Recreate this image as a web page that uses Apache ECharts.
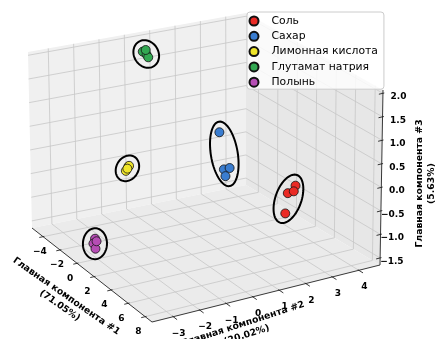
<!DOCTYPE html>
<html><head><meta charset="utf-8">
<script src="https://cdn.jsdelivr.net/npm/echarts@6/dist/echarts.min.js"></script>
<style>html,body{margin:0;padding:0;background:#fff}#c{width:436px;height:339px}</style>
</head><body><div id="c"></div><script>
// ---------- data ----------
const groupNames = ['Соль', 'Сахар', 'Лимонная кислота', 'Глутамат натрия', 'Полынь'];
// each point: [PC1, PC2, PC3]
const salt     = [[7.39, 2.08, 0.23], [7.51, 1.75, 0.13], [7.75, 1.89, 0.18], [7.02, 1.83, -0.37]];
const sugar    = [[6.20, -0.37, 1.52], [5.63, -0.01, 0.62], [5.91, 0.11, 0.67], [5.92, -0.05, 0.52]];
const citric   = [[-1.50, -1.24, -0.11], [-1.40, -1.37, -0.17], [-1.35, -1.26, -0.07], [-1.40, -1.31, -0.13]];
const msg      = [[-4.44, 0.41, 1.78], [-4.22, 0.48, 1.74], [-4.18, 0.53, 1.68], [-4.34, 0.49, 1.82]];
const wormwood = [[-1.15, -2.70, -1.42], [-0.90, -2.85, -1.47], [-0.52, -2.90, -1.52], [-0.98, -2.70, -1.45]];
const xTicks = [-4, -2, 0, 2, 4, 6, 8];
const yTicks = [-3, -2, -1, 0, 1, 2, 3, 4];
const zTicks = [-1.5, -1, -0.5, 0, 0.5, 1, 1.5, 2];
const xLim = [-5.3, 8.8];
const yLim = [-3.8, 4.8];
const zLim = [-1.65, 2.07];
const xTitle = 'Главная компонента #1\n(71.05%)';
const yTitle = 'Главная компонента #2\n(20.02%)';
const zTitle = 'Главная компонента #3\n(5.63%)';

// ---------- style / layout ----------
const groups = [salt, sugar, citric, msg, wormwood];
const colors = ['#ea2a25', '#3a7dd0', '#efe52a', '#33a852', '#b54db4'];
const FONT = '"DejaVu Sans", sans-serif';
// view: screen position of the box corners (key: x,y,z index, 0=min 1=max)
const VIEW = {
  c000: [32, 228], c100: [152, 322], c010: [246, 185], c110: [380, 265],
  c001: [28, 52],  c101: [150, 143], c011: [246, 13],  c111: [383, 90]
};
function lerp(a, b, t) { return [a[0] + (b[0] - a[0]) * t, a[1] + (b[1] - a[1]) * t]; }
function proj(x, y, z) {
  const u = (x - xLim[0]) / (xLim[1] - xLim[0]);
  const v = (y - yLim[0]) / (yLim[1] - yLim[0]);
  const w = (z - zLim[0]) / (zLim[1] - zLim[0]);
  const f0 = lerp(lerp(VIEW.c000, VIEW.c100, u), lerp(VIEW.c010, VIEW.c110, u), v);
  const f1 = lerp(lerp(VIEW.c001, VIEW.c101, u), lerp(VIEW.c011, VIEW.c111, u), v);
  return lerp(f0, f1, w);
}
const [x0, x1] = xLim, [y0, y1] = yLim, [z0, z1] = zLim;

// panes
const panes = [
  { pts: [[x0, y0, z0], [x0, y1, z0], [x0, y1, z1], [x0, y0, z1]], fill: '#f0f0f0' },
  { pts: [[x0, y1, z0], [x1, y1, z0], [x1, y1, z1], [x0, y1, z1]], fill: '#e7e7e7' },
  { pts: [[x0, y0, z0], [x1, y0, z0], [x1, y1, z0], [x0, y1, z0]], fill: '#ebebeb' }
];
// grid lines
const gridLines = [];
yTicks.forEach(t => gridLines.push([[x0, t, z0], [x0, t, z1]]));
zTicks.forEach(t => gridLines.push([[x0, y0, t], [x0, y1, t]]));
xTicks.forEach(t => gridLines.push([[t, y1, z0], [t, y1, z1]]));
zTicks.forEach(t => gridLines.push([[x0, y1, t], [x1, y1, t]]));
xTicks.forEach(t => gridLines.push([[t, y0, z0], [t, y1, z0]]));
yTicks.forEach(t => gridLines.push([[x0, t, z0], [x1, t, z0]]));
// axis lines + tick marks
const axisLines = [
  [[x0, y0, z0], [x1, y0, z0]],
  [[x1, y0, z0], [x1, y1, z0]],
  [[x1, y1, z0], [x1, y1, z1]]
];
xTicks.forEach(t => axisLines.push([[t, y0 + 0.05, z0], [t, y0 - 0.15, z0]]));
yTicks.forEach(t => axisLines.push([[x1 - 0.1, t, z0], [x1 + 0.45, t, z0]]));
zTicks.forEach(t => axisLines.push([[x1, y1 + 0.05, t], [x1, y1 - 0.15, t]]));

// text labels
const fmt = (v, d) => (v < 0 ? '\u2212' : '') + (d ? Math.abs(v).toFixed(d) : String(Math.abs(v)));
const texts = [];
xTicks.forEach(t => { const p = proj(t, y0, z0); texts.push({ p: [p[0] - 10, p[1] + 15], s: fmt(t), align: 'left', rot: 0, size: 9 }); });
yTicks.forEach(t => { const p = proj(x1, t, z0); texts.push({ p: [p[0] + 5.5, p[1] + 16.8], s: fmt(t), align: 'center', rot: 0, size: 9 }); });
zTicks.forEach(t => { const p = proj(x1, y1, t); texts.push({ p: [p[0] + 23.5, p[1] + 3.6], s: fmt(t, 1), align: 'right', rot: 0, size: 9 }); });
(() => {
  let p = proj((x0 + x1) / 2, y0, z0);
  texts.push({ p: [p[0] - 29, p[1] + 26], s: xTitle, align: 'center', rot: -35 * Math.PI / 180, size: 9.3 });
  p = proj(x1, (y0 + y1) / 2, z0);
  texts.push({ p: [p[0] - 21, p[1] + 36], s: yTitle, align: 'center', rot: 18 * Math.PI / 180, size: 9.3 });
  p = proj(x1, y1, (z0 + z1) / 2);
  texts.push({ p: [p[0] + 44, p[1] + 6], s: zTitle, align: 'center', rot: Math.PI / 2, size: 9.3 });
})();

// ellipses around projected clusters
function ellipseFor(pts, pad) {
  const n = pts.length;
  const mx = pts.reduce((s, p) => s + p[0], 0) / n, my = pts.reduce((s, p) => s + p[1], 0) / n;
  let sxx = 0, syy = 0, sxy = 0;
  pts.forEach(p => { const dx = p[0] - mx, dy = p[1] - my; sxx += dx * dx; syy += dy * dy; sxy += dx * dy; });
  const ang = 0.5 * Math.atan2(2 * sxy, sxx - syy);
  const u = [Math.cos(ang), Math.sin(ang)], v = [-Math.sin(ang), Math.cos(ang)];
  let uMin = 1e9, uMax = -1e9, vMin = 1e9, vMax = -1e9;
  pts.forEach(p => {
    const dx = p[0] - mx, dy = p[1] - my;
    const pu = dx * u[0] + dy * u[1], pv = dx * v[0] + dy * v[1];
    uMin = Math.min(uMin, pu); uMax = Math.max(uMax, pu); vMin = Math.min(vMin, pv); vMax = Math.max(vMax, pv);
  });
  const cu = (uMin + uMax) / 2, cv = (vMin + vMax) / 2;
  const cx = mx + cu * u[0] + cv * v[0], cy = my + cu * u[1] + cv * v[1];
  const a = Math.max((uMax - uMin) / 2 + pad, 11), b = Math.max((vMax - vMin) / 2 + pad, 11);
  const out = [];
  for (let k = 0; k < 72; k++) {
    const t = k / 72 * Math.PI * 2;
    out.push([cx + a * Math.cos(t) * u[0] + b * Math.sin(t) * v[0], cy + a * Math.cos(t) * u[1] + b * Math.sin(t) * v[1]]);
  }
  return out;
}
const projected = groups.map(g => g.map(p => proj(p[0], p[1], p[2])));
const ellipses = projected.map(pts => ellipseFor(pts, 10.5));

// ---------- chart ----------
const chart = echarts.init(document.getElementById('c'), null, { renderer: 'canvas' });
const dummy = arr => arr.map(() => [0, 0]);
const series = [
  {
    type: 'custom', z: 1, silent: true, clip: false, data: dummy(panes),
    renderItem: (params, api) => ({
      type: 'polygon',
      shape: { points: panes[params.dataIndex].pts.map(q => api.coord(proj(q[0], q[1], q[2]))) },
      style: { fill: panes[params.dataIndex].fill, stroke: null }
    })
  },
  {
    type: 'custom', z: 1.1, silent: true, clip: false, data: dummy(gridLines),
    renderItem: (params, api) => {
      const l = gridLines[params.dataIndex];
      const a = api.coord(proj(...l[0])), b = api.coord(proj(...l[1]));
      return { type: 'line', shape: { x1: a[0], y1: a[1], x2: b[0], y2: b[1] }, style: { stroke: '#c6c6c6', lineWidth: 0.8 } };
    }
  },
  {
    type: 'custom', z: 1.2, silent: true, clip: false, data: dummy(axisLines),
    renderItem: (params, api) => {
      const l = axisLines[params.dataIndex];
      const a = api.coord(proj(...l[0])), b = api.coord(proj(...l[1]));
      return { type: 'line', shape: { x1: a[0], y1: a[1], x2: b[0], y2: b[1] }, style: { stroke: '#222', lineWidth: 0.9 } };
    }
  },
  {
    type: 'custom', z: 1.3, silent: true, clip: false, data: dummy(texts),
    renderItem: (params, api) => {
      const t = texts[params.dataIndex];
      const c = api.coord(t.p);
      return {
        type: 'text', x: c[0], y: c[1], rotation: t.rot,
        style: { text: t.s, fill: '#000', fontSize: t.size, fontFamily: FONT, fontWeight: 'bold', align: t.align, verticalAlign: 'middle', lineHeight: 11.5 }
      };
    }
  }
];
groupNames.forEach((name, i) => {
  series.push({
    type: 'scatter', name: name, z: 3, silent: true, symbol: 'circle', symbolSize: 9,
    itemStyle: { color: colors[i], borderColor: '#111', borderWidth: 0.8, opacity: 1 },
    data: projected[i]
  });
});
series.push({
  type: 'custom', z: 4, silent: true, clip: false, data: dummy(ellipses),
  renderItem: (params, api) => ({
    type: 'polygon',
    shape: { points: ellipses[params.dataIndex].map(q => api.coord(q)) },
    style: { fill: 'none', stroke: '#000', lineWidth: 2 }
  })
});

chart.setOption({
  animation: false,
  backgroundColor: '#ffffff',
  grid: { left: 0, right: 0, top: 0, bottom: 0 },
  xAxis: { type: 'value', min: 0, max: 436, show: false },
  yAxis: { type: 'value', min: 0, max: 339, inverse: true, show: false },
  legend: {
    orient: 'vertical', left: 247, top: 12,
    padding: [3, 6, 1, 1.5], itemWidth: 25, itemHeight: 9, itemGap: 3.3, itemTextGap: 5.5,
    backgroundColor: 'rgba(255,255,255,0.8)', borderColor: '#cccccc', borderWidth: 1, borderRadius: 3,
    icon: 'circle',
    textStyle: { fontFamily: FONT, fontSize: 10.8, color: '#000', lineHeight: 12 },
    data: groupNames
  },
  series: series
});
</script></body></html>
